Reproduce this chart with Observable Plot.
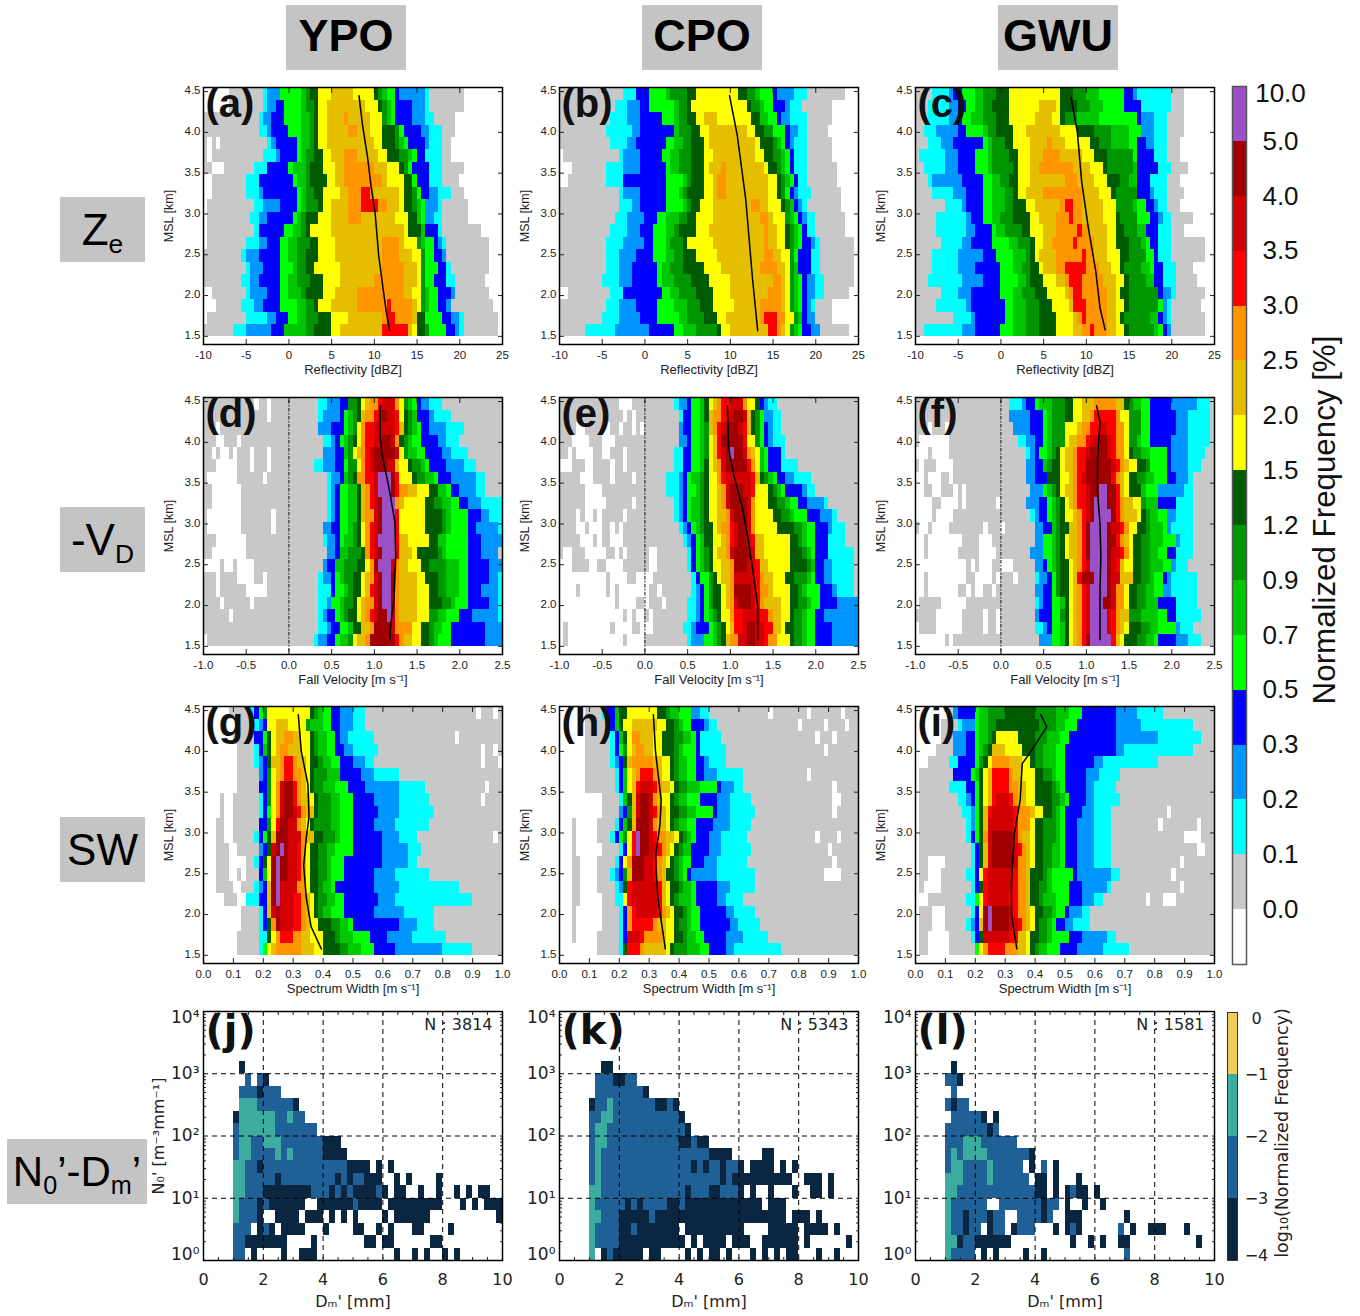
<!DOCTYPE html>
<html><head><meta charset="utf-8">
<script src="https://cdn.jsdelivr.net/npm/d3@7"></script>
<script src="https://cdn.jsdelivr.net/npm/@observablehq/plot@0.6"></script>
<style>
html,body{margin:0;padding:0;background:#fff}
#root{position:relative;width:1360px;height:1316px;overflow:hidden;font-family:"Liberation Sans",sans-serif}
#root>*{position:absolute}
#root svg{overflow:visible;background:transparent}
.box{background:#c4c4c4;display:flex;align-items:center;justify-content:center;color:#000;white-space:nowrap}
.box sub{font-size:.6em;vertical-align:-.3em;line-height:0}
</style></head><body><div id="root"></div>
<script>
// class colours, from frequency 0 up to the top of the colour bar
const classColors=["#ffffff","#c8c8c8","#00ffff","#0096ff","#0000ff","#00ff00","#00c800","#009600","#005a00","#ffff00","#e6be00","#ff9600","#ff0000","#d20000","#a00000","#9b50c8"];
const barLabels=["0.0","0.1","0.2","0.3","0.5","0.7","0.9","1.2","1.5","2.0","2.5","3.0","3.5","4.0","5.0","10.0"];
const dsdColors={d:"#0a2640",b:"#1f6096",t:"#3cac9f",g:"#f0cd5a"};
const dsdBarLabels=["0","\u22121","\u22122","\u22123","\u22124"];
// each row, top (4.5 km) to bottom (1.5 km): bin where each class starts | bin where each class ends
const rowsA=["6 14 15 18 18 23 24 25 27 30|35 40 41 42 43 45 46 52 53 61","6 14 15 17 19 23 24 26 27 29|38 41 42 43 44 45 49 52 53 61","0 13 14 16 19 23 25 26 27 29 33|34 39 42 42 43 44 45 49 52 54 59","0 13 15 16 20 23 25 26 27 29 34|36 39 42 45 46 46 47 51 53 56 59","0 15 16 17 22 23 25 26 27 29|40 42 45 46 47 48 52 53 56 58","0 14 17 18 22 23 24 26 28 30 33|36 41 43 46 48 49 50 52 52 56 58","0 12 15 15 20 21 24 25 28 31 33|40 43 46 47 48 48 49 53 53 56 61","2 10 13 13 21 22 24 25 29 31 33|42 43 47 49 49 49 50 53 53 56 60","2 10 13 14 22 23 24 26 28 32 34 37|39 40 46 47 49 50 50 51 53 55 58 61","1 12 14 18 22 23 24 27 28 30 34 37|41 43 46 47 49 50 51 52 52 55 56 62","1 11 13 15 21 22 23 24 27 30 34|37 45 48 50 50 51 52 52 54 56 62","1 12 13 13 19 21 23 24 25 30|47 48 51 51 52 52 55 55 56 65","1 10 13 15 18 20 22 25 27 31 42|46 47 50 50 51 52 54 55 56 57 67","0 9 10 13 18 20 22 24 27 31 42|46 49 51 51 52 52 54 56 57 57 67","0 10 11 14 18 21 22 24 26 32 42|47 50 51 51 52 52 55 57 57 58 67","0 9 11 13 18 20 22 25 28 32 40|47 50 51 51 52 52 54 57 57 59 66","2 10 11 15 18 20 23 24 28 31 36|47 49 51 51 52 53 55 58 59 59 67","3 9 12 14 18 22 24 26 27 30 36 43|44 49 50 51 51 52 53 55 57 58 58 68","1 10 15 17 20 22 24 27 30 34 42 43|45 49 50 50 52 52 52 56 58 60 61 69","0 7 10 16 19 19 24 26 30 32 42 42|48 48 49 50 52 53 53 57 59 60 61 69"];
const rowsB=["0 15 18 18 21 25 26 30 32|42 44 46 47 50 51 55 58 67","0 13 16 19 21 27 28 30 31|44 45 47 48 50 53 54 57 64","0 12 16 19 24 27 28 30 32 34|37 45 47 47 49 51 52 54 58 64","0 11 17 19 27 27 28 31 33 35|44 46 48 50 50 53 54 56 58 63","0 12 16 18 25 27 29 31 34 35|46 47 50 51 52 53 54 55 58 64","1 14 15 19 24 26 28 31 34 36|46 48 50 52 53 54 55 55 58 64","3 11 15 19 25 26 28 31 34 35 38|39 48 49 51 52 53 54 55 55 58 65","2 11 15 15 25 29 30 31 34 36 37|39 49 51 52 53 54 55 56 56 58 65","0 14 15 19 25 28 29 30 34 36 37|39 49 51 52 53 53 54 55 56 59 66","0 14 17 19 25 29 30 31 33 36 45|47 49 52 53 54 55 55 56 57 58 66","0 13 16 20 23 25 28 30 32 36 47|49 50 53 53 54 55 56 57 58 60 67","0 12 16 19 22 25 27 28 32 35 48|49 51 53 54 55 56 57 58 58 60 67","0 11 15 20 22 25 26 29 30 36 48|49 51 53 54 55 56 57 59 60 61 69","0 11 14 18 22 25 27 29 32 37 48|50 52 54 54 55 55 56 59 59 61 69","0 11 14 17 23 24 26 29 34 38 47|51 53 54 54 55 56 56 59 59 61 69","0 10 14 17 23 24 27 31 35 40 50|52 53 54 54 55 56 57 58 60 62 69","2 12 15 15 24 26 28 32 36 40 49|52 53 54 54 55 56 57 58 60 62 68","0 11 14 18 23 27 30 33 36 41 47|52 53 54 54 55 56 57 58 59 60 64","0 10 14 19 23 28 30 34 37 39 47 48|51 53 53 55 55 56 57 57 58 60 60 64","0 6 13 21 27 29 32 37 38 40 49 49|51 52 53 54 54 55 56 57 59 61 61 68"];
const rowsC=["0 4 8 9 11 14 16 19 22|34 37 40 43 49 51 52 60 63","0 3 8 10 12 14 16 18 22 29|33 34 38 41 44 49 53 53 60 63","0 3 8 10 11 13 16 19 22 28|32 34 35 38 43 52 53 56 59 63","0 2 5 10 12 16 17 19 23 26|34 38 42 46 50 53 53 56 59 63","0 3 6 9 16 17 18 21 23 27 31|32 35 41 43 46 50 52 54 56 59 62","0 1 7 10 14 17 18 22 24 27 30|34 39 42 45 51 51 52 56 56 59 62","0 2 7 10 14 17 18 23 24 27 29|37 41 44 45 51 52 52 57 57 60 64","0 3 4 11 16 18 20 22 24 27 35|38 42 45 48 50 52 52 55 55 59 62","0 4 9 12 16 18 21 23 24 26 30|39 43 46 47 52 52 52 55 56 59 63","0 7 11 12 16 18 21 23 26 28 34 35|37 39 44 47 47 51 52 54 56 57 59 62","0 5 12 13 16 18 20 23 27 29 33 36|37 39 44 47 48 52 52 55 57 58 60 65","0 5 12 14 18 19 21 25 27 30 33 38|39 41 45 47 49 52 54 54 57 57 60 63","0 6 11 13 18 22 24 27 28 30 32 37|38 42 45 47 50 53 54 55 57 57 60 68","0 4 10 16 19 23 26 27 28 29 33 39|40 42 45 48 50 54 54 56 57 57 60 68","0 4 10 14 20 23 25 27 29 30 33 35|40 43 46 48 49 53 55 56 58 58 61 65","0 3 11 16 20 24 26 27 30 33 35 36|39 44 47 49 50 54 56 56 58 58 61 66","0 6 10 13 20 23 25 28 31 35 36 37|39 45 47 48 50 57 57 57 58 60 61 68","0 5 12 13 21 23 26 29 32 36 37 37|40 45 47 49 50 57 57 58 58 59 60 67","0 9 13 14 21 23 26 29 33 37 38 39|40 45 47 48 49 55 57 57 58 59 60 68","0 2 11 14 20 23 26 29 33 37 39 41|42 45 47 49 50 56 57 58 59 60 60 68"];
const rowsD=["0 27 29 32 34 34 34 36 37 38 39 41 42|45 45 46 46 47 47 48 49 50 51 53 56 70","0 27 28 32 33 34 35 36 37 37 38 40 41 42|43 45 46 46 46 47 48 49 50 50 53 54 58 70","0 27 27 30 33 34 35 36 36 37 37 38 40|45 46 46 47 47 48 49 50 51 53 57 61 70","0 28 30 31 32 33 34 35 36 37 37 38 40 42|44 45 45 46 46 46 47 48 49 51 55 57 60 70","0 28 28 31 33 33 34 35 35 36 37 38 39 40|45 46 46 46 46 47 47 48 50 52 56 58 62 70","0 26 28 31 33 34 34 36 36 37 37 38 39 40|43 45 45 45 46 48 49 51 52 53 57 61 64 70","0 29 30 32 33 33 34 35 36 36 36 38 40 41 41|44 45 45 46 46 46 49 50 52 54 55 58 64 66 70","0 29 30 31 32 34 36 36 37 37 38 39 40 41 41|44 45 45 46 48 50 53 55 55 57 58 60 64 66 70","0 29 30 31 32 34 36 36 37 37 38 39 40 41 42|45 45 45 45 46 47 52 54 56 58 60 62 65 70 70","0 29 30 31 32 34 36 36 37 37 38 40 40 41 42|45 45 45 46 46 46 52 56 57 58 62 65 67 70 70","0 28 28 30 32 34 35 36 37 38 38 39 40 41 42|45 45 45 46 46 46 52 56 57 58 62 64 69 70 70","0 28 29 31 32 33 35 36 37 38 38 39 40 41 41|45 45 45 46 46 48 53 55 55 57 62 65 70 70 70","0 29 29 31 32 32 34 37 38 38 38 39 40 41 42|45 45 45 46 46 49 50 55 56 57 62 65 69 69 70","0 28 28 29 31 31 33 36 38 39 39 40 40 40 41|44 44 45 45 46 48 51 53 57 60 62 67 70 70 70","0 27 28 30 31 32 33 35 37 38 39 40 40 41 42|44 45 45 45 46 50 52 55 57 60 62 67 69 70 70","0 27 30 30 31 33 34 35 37 38 39 39 40 41 42|44 45 45 45 46 50 53 55 57 60 62 65 69 70 70","0 27 29 30 30 32 33 35 36 37 38 40 40 41 42|44 45 45 45 46 50 53 56 58 59 62 67 69 70 70","0 27 28 29 31 32 33 34 36 37 38 39 40 41 43|44 44 45 45 46 50 53 53 55 57 60 63 69 70 70","0 27 29 30 32 34 35 35 37 37 39 40 40 40|44 45 45 49 49 51 53 54 56 58 66 70 70 70","1 26 27 29 31 32 34 35 35 36 38 39 39 39|45 45 46 47 49 51 53 54 55 58 66 70 70 70"];
const rowsE=["0 27 28 30 31 33 34 34 35 36 37 38 40|43 43 44 44 46 47 47 47 47 48 49 51 70","0 28 29 29 31 33 34 34 35 35 36 38 39 41|43 44 44 44 45 45 46 47 47 48 48 50 52 70","0 28 28 29 31 33 34 35 35 35 36 37 38 39|42 43 44 44 45 45 46 47 47 48 49 50 52 70","0 28 28 30 31 33 34 35 35 36 37 37 38 38|43 43 44 44 44 46 46 47 47 48 49 50 53 70","0 27 29 29 31 33 34 35 35 36 37 37 38 39 40|41 43 44 44 45 46 47 47 47 48 49 52 52 53 70","0 27 29 29 31 33 34 34 35 36 37 38 38 39|44 44 45 46 46 47 47 47 48 49 52 52 56 70","0 25 28 29 30 31 33 34 35 37 37 38 39|45 46 46 47 47 48 49 50 51 53 55 59 70","0 25 28 29 30 32 33 34 35 37 38 39 39 40|43 45 46 46 46 49 50 51 52 53 57 58 60 70","0 27 28 29 30 31 33 34 35 37 38 39 39 40|44 45 45 46 46 49 51 53 54 56 58 62 63 70","0 27 28 29 30 31 33 34 35 37 39 40 40 41|44 45 45 46 46 50 52 54 55 58 61 64 65 70","0 28 29 30 31 32 33 34 36 37 38 40 41 42|44 45 45 46 46 51 55 57 58 60 63 64 67 70","0 29 30 31 32 33 34 34 36 38 39 40 41 42|44 45 46 46 48 54 56 57 58 60 63 63 67 70","0 30 31 31 32 33 34 35 36 37 39 40 40 41|45 46 46 46 48 54 57 58 59 60 63 63 69 70","0 30 31 31 32 33 34 35 36 38 40 41 41 41|44 46 47 47 49 54 58 59 60 60 62 64 69 70","0 31 32 32 33 35 35 36 37 38 40 41 41|46 47 48 50 53 55 58 59 60 62 64 69 70","0 31 32 33 34 35 35 36 38 39 40 41 41 41|45 46 47 49 50 54 56 57 58 61 64 65 69 70","0 30 32 33 34 35 35 36 38 39 40 41 41 42|45 46 47 48 52 54 56 58 59 61 65 70 70 70","0 30 32 33 34 35 36 37 38 40 40 41 43|47 49 50 52 54 55 57 58 60 62 70 70 70","0 29 31 32 35 36 37 38 39 40 41 41 43 44|46 48 50 50 52 53 55 57 58 60 64 70 70 70","0 30 31 34 34 36 37 38 39 39 40 42 42 44|46 48 49 51 51 54 55 57 58 60 64 70 70 70"];
const rowsF=["0 22 25 26 28 29 32 35 37 39 42|47 49 49 50 51 53 55 60 66 69 70","0 22 22 27 30 31 32 35 37 39 41 42|47 48 48 50 50 53 53 55 61 64 69 70","0 23 23 27 30 31 32 35 35 38 39 41 43|45 47 49 49 50 50 53 53 55 61 64 69 70","0 24 26 28 30 31 32 35 35 36 38 40 41 43|45 46 47 49 49 50 50 52 53 55 60 64 69 70","0 26 27 28 29 31 32 33 34 35 37 38 40 41|45 46 47 49 49 50 51 53 55 59 60 64 68 70","0 26 26 28 30 30 31 32 34 35 37 38 40 40|46 47 48 49 50 52 54 55 55 59 60 64 67 70","0 26 26 28 31 31 31 31 34 36 37 38 39 40|46 46 47 48 49 50 52 54 56 59 61 64 65 70","0 27 27 30 30 31 32 33 34 35 37 38 40 41 43|45 47 47 48 48 49 50 53 53 54 57 57 63 65 70","0 26 26 29 31 32 33 34 35 36 37 38 40 41 42|45 47 47 48 49 51 53 53 54 57 57 61 61 65 70","0 27 28 29 31 32 33 34 35 37 38 39 40 41 42|46 47 47 48 49 52 53 54 55 57 59 59 61 65 70","0 28 28 30 32 32 33 34 36 36 38 39 40 40 41|45 46 48 49 50 50 52 54 55 58 59 59 60 65 70","0 28 28 30 30 32 33 34 35 36 38 39 40 40 41|45 47 47 48 49 50 51 53 55 58 61 61 62 65 70","0 27 27 30 30 32 33 34 35 36 38 39 40 40 41|45 46 48 49 50 50 51 53 55 57 59 61 61 65 70","0 28 28 30 31 32 33 34 36 37 38 39 40 41 41|45 46 47 48 48 49 51 53 55 58 60 60 61 64 70","0 28 29 31 32 33 33 34 36 37 38 38 39 39 42|45 46 48 48 48 51 51 53 55 56 58 59 60 66 70","0 28 28 30 32 33 33 34 36 37 38 39 40 41 41|45 46 47 47 49 49 50 52 54 56 58 58 60 66 70","0 28 29 30 32 34 35 35 36 37 38 39 40 41 41|44 46 47 47 49 49 50 52 54 57 57 61 61 66 70","0 28 28 29 32 34 34 35 36 37 38 39 40 41 41|45 45 46 47 48 50 50 50 53 57 59 61 61 67 70","0 28 30 31 32 34 35 35 36 37 38 39 40 41 41|45 45 46 47 48 49 50 53 55 57 61 61 62 65 70","0 29 29 32 32 34 35 35 36 37 38 39 40 40 41|46 46 46 47 47 48 49 52 54 56 57 61 64 67 70"];
const rowsG=["6 11 12 12 13 14 14 15 15|25 26 27 28 30 32 35 38 70","8 12 13 14 15 15 15 15 15 17|20 24 24 25 28 30 32 35 38 70","7 12 12 12 14 15 15 15 16 17 19|21 23 25 26 27 29 31 32 34 40 70","8 12 13 13 14 14 15 15 16 17 18|20 23 25 26 27 29 31 33 35 41 70","8 12 13 14 15 15 15 15 16 16 18 19|21 22 24 25 27 28 30 32 35 38 40 70","7 13 13 14 15 15 15 16 16 17 18 19|21 23 24 25 26 29 32 32 37 40 46 70","5 13 13 13 15 15 15 16 16 17 17 18 18 19|21 21 22 23 24 25 26 28 31 34 38 46 52 70","4 13 14 14 15 15 15 16 16 17 17 18 18 19|21 21 22 23 25 26 27 30 32 35 40 46 53 70","4 13 14 14 15 16 16 16 16 17 17 18 18 19|21 22 23 24 26 26 27 30 32 35 41 46 54 70","3 13 13 13 15 15 15 16 16 17 17 17 18 18|20 22 22 23 24 25 26 30 32 35 40 45 53 70","3 12 13 13 14 15 15 15 16 16 17 17 17 17|20 23 23 24 26 26 28 31 32 35 42 46 50 70","3 13 13 14 15 15 15 15 16 16 16 16 16 17 18|19 20 22 23 24 24 25 27 29 31 35 42 48 51 70","3 12 13 13 14 14 14 14 15 16 16 16 16 16 17|18 20 22 23 24 24 25 27 29 30 33 42 48 50 70","3 13 13 13 14 14 15 15 15 16 16 16 16 16 17|18 20 22 23 24 24 25 27 29 30 33 40 45 53 70","3 12 13 14 15 15 15 15 15 15 16 16 16 16 17|18 18 22 22 24 24 25 27 28 30 31 40 46 60 70","5 10 13 13 15 15 15 15 15 15 16 16 16 16 17|18 18 21 23 24 25 26 27 29 31 33 41 45 63 70","9 13 14 14 15 15 15 15 15 15 16 16 16 17|18 21 23 24 25 26 27 28 30 33 40 47 54 70","9 13 14 14 15 15 15 15 16 16 16 17 17 17|18 21 23 24 25 27 30 32 34 35 46 50 54 70","8 13 15 15 15 15 15 15 16 17 17 18|21 23 25 28 31 32 35 39 43 49 57 70","8 13 14 14 14 15 15 15 15 16 17|23 26 28 32 34 37 40 45 56 63 70"];
const rowsH=["6 10 11 11 13 13 14 14 16|23 25 26 28 31 31 33 35 70","6 12 12 12 13 13 14 14 15 17|23 25 27 28 29 31 34 35 37 70","6 12 13 13 14 14 15 15 16 17 17|19 22 24 27 29 31 32 33 33 38 70","6 12 13 13 14 15 15 16 16 17 18|20 22 24 27 28 29 32 33 33 39 70","6 12 13 14 15 15 15 15 16 16 17|22 24 26 27 28 30 32 34 35 39 70","6 13 14 14 15 15 16 16 16 17 18 19|22 23 24 26 27 28 30 32 34 37 43 70","4 13 14 14 15 15 16 16 16 17 18 18 19|22 23 24 26 27 28 30 33 37 38 41 43 70","4 14 15 15 15 15 16 16 17 17 18 18 18 19|21 22 22 23 24 26 27 28 30 33 37 40 45 70","4 14 14 15 16 16 16 17 17 17 18 18 18 19|21 22 23 24 25 26 28 30 32 36 37 40 46 70","3 13 14 14 15 15 16 16 17 17 18 18 18 18|21 22 22 23 25 26 27 28 30 32 36 40 45 70","3 12 13 13 14 15 15 16 16 17 17 17 18 18 18|19 21 22 23 25 27 28 29 30 31 32 35 38 44 70","3 14 15 15 16 16 16 16 16 17 17 17 18 18 18|19 21 23 24 25 26 27 28 29 31 31 35 38 45 70","3 13 14 14 15 15 15 15 15 16 16 17 17 17|20 22 23 24 25 26 27 28 29 31 34 37 44 70","3 12 13 14 15 15 15 16 16 16 17 17 17 17|20 22 23 24 25 25 27 28 29 30 31 37 46 70","3 13 14 15 15 15 15 15 16 16 16 16 17|23 24 24 25 26 28 29 31 32 37 40 46 70","3 13 15 15 15 15 15 15 15 16 16 16 17|23 24 24 25 26 27 28 31 32 37 39 43 70","3 14 15 15 16 16 16 16 16 16 16 17 18|23 24 25 26 27 29 30 31 33 39 41 46 70","3 14 15 15 16 16 16 16 16 16 16 17|22 23 25 27 28 30 31 33 40 42 47 70","3 14 15 15 16 16 16 16 16 16 16 16 16|19 20 24 25 27 29 30 32 34 39 43 49 70","9 14 15 15 15 15 15 15 16 16 16 16|19 20 25 26 27 30 33 35 39 41 52 70"];
const rowsI=["8 9 9 10 14 15 17 21|28 33 36 39 47 52 58 70","6 10 11 14 14 15 17 19|29 33 35 38 47 53 65 70","6 9 9 12 14 15 17 18 19|24 28 31 34 36 47 57 67 70","5 9 9 12 14 15 16 17 18 18|21 25 28 30 33 35 47 49 65 70","3 8 10 10 14 15 15 16 17 18 18|22 25 27 28 30 33 35 42 44 57 70","1 9 9 9 13 14 15 15 16 17 18 18|22 23 25 28 30 32 33 35 40 43 48 70","1 8 12 12 14 15 15 15 16 17 18 18|22 24 26 28 32 33 34 35 40 42 47 70","1 10 12 13 14 15 15 15 16 17 18 18 19|22 23 24 26 28 32 34 35 36 40 42 48 70","1 11 13 14 14 15 15 15 16 16 17 17 18|23 24 27 28 30 32 33 34 35 39 42 46 70","1 12 13 14 14 15 15 15 16 16 17 17 17|23 24 27 27 28 30 33 34 35 38 42 46 70","1 12 13 13 14 15 15 15 16 16 16 17 17 18|23 23 24 25 27 28 30 33 34 35 38 42 46 70","1 13 14 14 15 15 15 15 16 16 17 17 17 18|23 24 25 26 27 28 30 32 34 35 38 42 46 70","1 13 14 14 15 15 15 15 16 16 17 17 17 18|23 24 24 26 27 28 30 32 34 35 38 42 46 70","1 12 14 14 15 15 15 15 15 16 16 16 17|23 24 26 27 27 30 31 32 37 38 46 48 70","1 13 14 14 15 15 15 15 16 16 16 16 17|23 24 26 27 27 29 31 32 36 39 45 46 70","1 12 14 14 14 15 15 15 15 16 16 16 17|22 24 26 27 27 29 30 33 36 39 42 44 70","1 13 14 14 15 15 15 15 15 16 16 16 16 16 17|18 22 23 24 26 27 28 30 32 33 35 36 39 41 70","1 12 13 14 15 15 15 15 15 15 16 16 16 16 17|18 22 24 25 26 27 28 29 31 32 33 35 37 41 70","1 13 14 14 15 15 15 15 16 16 16 16 16|22 24 24 26 27 29 31 32 36 39 45 47 70","1 14 14 14 14 15 15 15 15 16 16 17|21 24 26 27 28 29 31 34 38 44 50 70"];
// white gaps inside the grey, by row from the top, in bins
const holesA=["","","","","1 3","1","2-4","","0-1","","","","","","","","","","",""];
const holesD=["12 15","15","3","3-4 8","2 4-5 7 11 15","3-7 11 15","1-3 4-7 14","2-8","2-8","1-8 16","1-8 16","3-9","2-9","0-2 3 5 6 8-11","3 8-11 14","3 10-13 14","4 11","6","",""];
const holesE=["14-16","15 17","4-5 10-11 14 17 19","3-6 10-12","2 4-7 10-11 15","0-2 6-7 12 15","5-7 12 17","6-9","6-10 17","4 6-7 9 15","4-5 7-9 12 14","5-7 9 12-14","1-2 6-10 13 15 21-22","0-2 7-8 11-14 21-22","0-10 12-15 18-21","0-3 5-10 12 14-20 23","0-12 14-17 20 24","0-14 16 18-19 21","0 2-11 13-16 19-21","0 2-14 16-19"];
const holesF=["","","3 7","1-4 5-7","0-2 4-7","1 5-7 8","0-1 3-5 8","0-1 4-5 9 11","0-2 3 6-7 8-9 11 19","0-3 5-8","1-2 4-7 16 20","0-1 3-10 15-17","0-1 3-5 6-9 15-18","0-5 6-8 9-11 13 15-17 20-22","0-1 3-10 11 14-17 19 23","0-1 3-9 12 14-15 18","0 6-10 11","5-10 16 19","0 5-9 10 16 19","0-6 8"];
const holesG=["64 68","","59","65 68","65 69","6-7","5-7 66","5-6 65","5-6","5-6","5-6 68","6-7","6-8 9","6-7 9","7-8","8-9","","","",""];
const holesH=["49 58 66","56 62 67","60 64","62","","58","3-5 64","4-9 64-65","4-9 64","4-8","4-8 60 65","4-9 63","5-8 64","5-8 62-65","5-8","5-9","4-9","4-9","4-8",""];
const holesI=["","","","","","","","","59","57 66","63-66","66-67","3-6 62","3-5 60","2-5 62","1-2 54 58-60","4-6","4-6","3-7","3-7"];
// mean profiles [value, km]
const meanA=[[8.2,4.45],[8.6,4.1],[9.2,3.7],[9.6,3.35],[10.1,3],[10.5,2.5],[11,2.1],[11.4,1.8],[11.8,1.57]];
const meanB=[[9.9,4.45],[10.8,3.97],[11.8,3.18],[12.6,2.2],[13.2,1.57]];
const meanC=[[8.2,4.43],[8.95,4],[9.45,3.4],[10.2,2.85],[11.1,2.3],[11.6,1.85],[12.2,1.58]];
const meanD=[[1.07,4.45],[1.07,4.05],[1.09,3.85],[1.17,3.45],[1.24,3.03],[1.25,2.6],[1.23,2.08],[1.19,1.75],[1.18,1.58]];
const meanE=[[.965,4.45],[.98,3.93],[1.04,3.6],[1.14,3.2],[1.2,2.87],[1.26,2.45],[1.32,2],[1.32,1.58]];
const meanF=[[1.12,4.45],[1.16,4.25],[1.13,3.8],[1.13,3.4],[1.16,3],[1.17,2.6],[1.16,2.2],[1.16,1.58]];
const meanG=[[.317,4.45],[.327,4],[.349,3.6],[.353,3.2],[.344,2.95],[.335,2.6],[.344,2.2],[.36,1.85],[.394,1.58]];
const meanH=[[.314,4.45],[.321,4],[.34,3.4],[.336,3.1],[.321,2.7],[.329,2.2],[.354,1.58]];
const meanI=[[.419,4.45],[.439,4.3],[.386,4],[.357,3.85],[.35,3.4],[.331,3],[.321,2.4],[.321,2],[.339,1.58]];
// N0'-Dm' rows from the top (row 15) to the bottom (row 0): class letter + bins
const dsdJ=["d6","b7 b9 d10","b6-8 d9 b10-12","t6-8 b9-14 d15","d5 t6-11 b12-13 t14 b15-16","b5 t6-11 b12-18","b5 t6-7 b8-9 t10-12 b13-19 d20-22","b5 t6-7 b8-11 t12 b13 t14 b15-19 d20-23","t5-6 b7-8 d9 b10-23 d24-27 d29 d31","t5-6 b7-11 d12 b13-21 d22 b23 d24 b25-26 d27-29 d32 d34 d39","t5-6 b7-9 d10-17 b18-20 d21 b22 d23 b24 d25-28 b29 d30 d32-33 d36 d39 d42 d44 d46-47","t5 b6-8 d9 b10 d11-16 d19-24 b25 d26-29 d31-37 d38-39 d43 d45 d47-49","t5 b6-8 d9 d12-15 d17-19 d21 d23 d25 d30 d32-37 d49","b5-7 d9 b10 d11 d13-16 d20 d25-26 d29 d31 d35-36 d41","b5-6 d7-13 d18 d27-28 d30-31 d38-39","b5-6 d8 d13 d16-18 d32 d35 d37 d40 d42"];
const dsdK=["d7-8","b6-8 d9-10 b11-12","b6-13 d14","d5 b6-7 t8 b9-15 d16-17 b18 d19","b5-6 t7-8 b9-19 d20","b5 t6-7 b8-20 d21","b5 t6-7 b8-19 d20-21 b22 d23-24","b5 t6 b7-24 d25-28 d34-35","b5 t6 b7-21 d22 b23 d24 b25-26 d27 b28-29 d30 d32-35 d37 d39","b5 t6 b7-26 d27 b28 d29-35 d36-38 d41-43 d45","t5-6 b7-20 d21 b22-24 d25-26 b27-29 d30 d32 d35 d39 d42-43 d45","t5 b6-9 b10 d11 b12 d13 b14-17 d18-19 b20 d21-33 d35-37","t5-6 b7-9 d10-14 b15 d16-37 d39-41 d43","t5 b6-9 d10-11 b12 d13-19 d21-30 d35-39 d41-44 d46","t5 b6-9 d10-20 d22 d24-27 d29 d30-31 d34-35 d36-39 d41 d48","t5 d7 b8 d9-13 d15-16 d21 d23 d25-26 d28 d32 d34 d36 d38-39 d43 d46"];
const dsdL=["d6","b5-6 d7","b6","b5 d6 b7-8","b6-10 d11 d13","b5-11 d12 b13","b5-7 t8-10 b11-16","b5 t6 b7 t8-11 b12-18 d19","b5 t6-7 b8-9 b10 b11 t12 b13-17 d19 b21 d23","t5-7 b8-11 t12 b13-18 d20-21 d23 d27","t5-6 b7-19 d20-21 d23 d25 b26 d27-28 d30","t5 b6-11 b14-20 d21 b22-23 d25 d28 d31","t5 b6-7 d8 b9-11 d12 b13-14 b17-20 d21 b22 d25-27 d35","t5 b6-7 d8 b9-10 d12 b13-14 d16 b17-19 d23 d25 b26 d27 b34 d36 d39-41 d45","t5-6 d7 b8-9 d10-15 d26 d29 d31 d34-35 d47","t5 b6-9 d11 d13 d18 d21 b35"];

const root=document.getElementById("root");
const frameW=299, frameH=257;
const colLeft=[203,559,915], rowTop=[87,397,706];
const yRowBase=1.492, yRowStep=0.1528;
const zxTicks=[-10,-5,0,5,10,15,20,25], vxTicks=[-1,-.5,0,.5,1,1.5,2,2.5], sxTicks=[0,.1,.2,.3,.4,.5,.6,.7,.8,.9,1];
const yTicks=[1.5,2,2.5,3,3.5,4,4.5];

function place(el,left,top){el.style.position="absolute";el.style.left=left+"px";el.style.top=top+"px";root.appendChild(el);return el;}
function parseRanges(s){return s.trim()?s.trim().split(/\s+/).map(t=>{const m=t.match(/^([a-z]?)(\d+)(?:-(\d+))?$/);return {k:m[1],a:+m[2],b:m[3]?+m[3]+1:+m[2]+1};}):[];}
function cellsFrom(rows,holes,xmin,dx){
  const out=[];
  rows.forEach((row,r)=>{
    const [ls,rs]=row.split("|").map(s=>s.trim().split(/\s+/).map(Number));
    const y1=yRowBase+(19-r)*yRowStep, y2=y1+yRowStep;
    const push=(a,b,c)=>{if(b>a)out.push({x1:xmin+a*dx,x2:xmin+b*dx,y1,y2,c});};
    ls.forEach((e,i)=>{const next=i<ls.length-1?ls[i+1]:rs[0];push(e,next,i+1);});
    rs.forEach((e,i)=>{if(i<rs.length-1)push(e,rs[i+1],rs.length-1-i);});
    if(holes&&holes[r])parseRanges(holes[r]).forEach(h=>push(h.a,h.b,0));
  });
  return out;
}
function profilePanel(col,rw,letter,rows,holes,mean,xmin,xmax,xTicks,xFmt,xLabel,zero){
  const dx=(xmax-xmin)/70;
  const p=Plot.plot({
    width:frameW+62,height:frameH+50,marginLeft:50,marginRight:12,marginTop:8,marginBottom:42,
    style:{background:"transparent",fontFamily:"Liberation Sans",fontSize:"11.5px",color:"#222"},
    x:{domain:[xmin,xmax]},y:{domain:[1.4,4.55]},color:{type:"identity"},
    marks:[
      Plot.rect(cellsFrom(rows,holes,xmin,dx),{x1:"x1",x2:"x2",y1:"y1",y2:"y2",fill:d=>classColors[d.c],shapeRendering:"crispEdges"}),
      zero?Plot.ruleX([0],{stroke:"#111",strokeWidth:1,strokeDasharray:"1.5,1.5,3.5,1.5"}):null,
      Plot.line(mean,{stroke:"#000",strokeWidth:1.5}),
      Plot.axisX({anchor:"bottom",ticks:xTicks,tickSize:-5,fill:"none",label:null}),
      Plot.axisX({anchor:"top",ticks:xTicks,tickSize:-5,fill:"none",label:null}),
      Plot.axisY({anchor:"left",ticks:yTicks,tickSize:-5,fill:"none",label:null}),
      Plot.axisY({anchor:"right",ticks:yTicks,tickSize:-5,fill:"none",label:null}),
      Plot.axisX({anchor:"bottom",ticks:xTicks,tickSize:0,tickPadding:6,tickFormat:xFmt,label:null}),
      Plot.axisY({anchor:"left",ticks:yTicks,tickSize:0,tickPadding:3,dy:-1,tickFormat:d=>d.toFixed(1),label:null}),
      Plot.text([xLabel],{frameAnchor:"bottom",lineAnchor:"middle",dy:25,fontSize:13,fill:"#222",stroke:null}),
      Plot.text(["MSL [km]"],{frameAnchor:"left",textAnchor:"middle",dx:-35,rotate:-90,fontSize:12.5,fill:"#222",stroke:null}),
      Plot.frame({stroke:"#000",strokeWidth:1.5}),
      Plot.text([letter],{frameAnchor:"top-left",dx:2,dy:1,lineAnchor:"top",fontSize:40,fontWeight:"bold",fill:"#111",stroke:null})
    ]});
  place(p,colLeft[col]-50,rowTop[rw]-8);
}
const f1=d=>d.toFixed(1), f0=d=>String(d);
profilePanel(0,0,"(a)",rowsA,holesA,meanA,-10,25,zxTicks,f0,"Reflectivity [dBZ]",false);
profilePanel(1,0,"(b)",rowsB,null,meanB,-10,25,zxTicks,f0,"Reflectivity [dBZ]",false);
profilePanel(2,0,"(c)",rowsC,null,meanC,-10,25,zxTicks,f0,"Reflectivity [dBZ]",false);
profilePanel(0,1,"(d)",rowsD,holesD,meanD,-1,2.5,vxTicks,f1,"Fall Velocity [m s\u207B\u00B9]",true);
profilePanel(1,1,"(e)",rowsE,holesE,meanE,-1,2.5,vxTicks,f1,"Fall Velocity [m s\u207B\u00B9]",true);
profilePanel(2,1,"(f)",rowsF,holesF,meanF,-1,2.5,vxTicks,f1,"Fall Velocity [m s\u207B\u00B9]",true);
profilePanel(0,2,"(g)",rowsG,holesG,meanG,0,1,sxTicks,f1,"Spectrum Width [m s\u207B\u00B9]",false);
profilePanel(1,2,"(h)",rowsH,holesH,meanH,0,1,sxTicks,f1,"Spectrum Width [m s\u207B\u00B9]",false);
profilePanel(2,2,"(i)",rowsI,holesI,meanI,0,1,sxTicks,f1,"Spectrum Width [m s\u207B\u00B9]",false);

// N0'-Dm' panels
const sup={0:"\u2070",1:"\u00B9",2:"\u00B2",3:"\u00B3",4:"\u2074"};
const dsdMajorX=[0,2,4,6,8,10];
const dsdMinorX=d3.range(0,10.01,.5);
const dsdMinorY=[0,1,2,3].flatMap(e=>[2,3,4,5,6,7,8,9].map(m=>m*10**e));
const dsdTickFmt=d=>"10"+sup[Math.round(Math.log10(d))];
function dsdCells(rows){
  const out=[];
  rows.forEach((row,i)=>{const k=rows.length-1-i;
    parseRanges(row).forEach(t=>out.push({x1:t.a*.2,x2:t.b*.2,y1:10**(.2*k),y2:10**(.2*k+.2),c:t.k}));});
  return out;
}
function dsdPanel(col,letter,rows,n){
  const H=249;
  const p=Plot.plot({
    width:frameW+72,height:H+68,marginLeft:60,marginRight:12,marginTop:8,marginBottom:60,
    style:{background:"transparent",fontFamily:"DejaVu Sans",fontSize:"16px",color:"#222"},
    x:{domain:[0,10]},y:{type:"log",domain:[1,1e4]},color:{type:"identity"},
    marks:[
      Plot.rect(dsdCells(rows),{x1:"x1",x2:"x2",y1:"y1",y2:"y2",fill:d=>dsdColors[d.c],shapeRendering:"crispEdges"}),
      Plot.ruleX([2,4,6,8],{stroke:"#000",strokeWidth:1,strokeDasharray:"5,4"}),
      Plot.ruleY([10,100,1000],{stroke:"#000",strokeWidth:1,strokeDasharray:"5,4"}),
      Plot.axisX({anchor:"bottom",ticks:dsdMinorX,tickSize:-3,fill:"none",label:null}),
      Plot.axisX({anchor:"top",ticks:dsdMinorX,tickSize:-3,fill:"none",label:null}),
      Plot.axisY({anchor:"left",ticks:dsdMinorY,tickSize:-3,fill:"none",label:null}),
      Plot.axisY({anchor:"right",ticks:dsdMinorY,tickSize:-3,fill:"none",label:null}),
      Plot.axisX({anchor:"bottom",ticks:dsdMajorX,tickSize:0,tickPadding:13,tickFormat:f0,label:null}),
      Plot.text(["D\u2098' [mm]"],{frameAnchor:"bottom",lineAnchor:"middle",dy:41,fontSize:16,fill:"#222",stroke:null}),
      Plot.axisY({anchor:"left",ticks:[10,100,1000],tickSize:0,tickPadding:4,fontSize:17,tickFormat:dsdTickFmt,label:null}),
      Plot.axisY({anchor:"left",ticks:[10000],tickSize:0,tickPadding:4,dy:6,fontSize:17,tickFormat:dsdTickFmt,label:null}),
      Plot.axisY({anchor:"left",ticks:[1],tickSize:0,tickPadding:4,dy:-6,fontSize:17,tickFormat:dsdTickFmt,label:null}),
      col===0?Plot.text(["N\u2080' [m\u207B\u00B3mm\u207B\u00B9]"],{frameAnchor:"left",textAnchor:"middle",dx:-45,rotate:-90,fontSize:16,fill:"#222",stroke:null}):null,
      Plot.frame({stroke:"#000",strokeWidth:1.5}),
      Plot.text([letter],{frameAnchor:"top-left",dx:2,dy:4,lineAnchor:"top",fontSize:40,fontWeight:"bold",fill:"#111",stroke:null}),
      Plot.text(["N : "+n],{frameAnchor:"top-right",dx:-10,dy:7,lineAnchor:"top",fontSize:16,fill:"#222",stroke:null})
    ]});
  place(p,colLeft[col]-60,1011-8);
}
dsdPanel(0,"(j)",dsdJ,3814);
dsdPanel(1,"(k)",dsdK,5343);
dsdPanel(2,"(l)",dsdL,1581);

// main colour bar
const bar=Plot.plot({
  width:14+90,height:878+8,marginLeft:0,marginRight:90,marginTop:4,marginBottom:4,
  style:{background:"transparent",fontFamily:"Liberation Sans",color:"#111"},
  x:{domain:[0,1],axis:null},y:{domain:[0,16],axis:null},color:{type:"identity"},
  marks:[
    Plot.rect(classColors.map((c,i)=>({i,c})),{x1:0,x2:1,y1:d=>d.i,y2:d=>d.i+1,fill:"c",shapeRendering:"crispEdges"}),
    Plot.frame({stroke:"#555",strokeWidth:1.5}),
    Plot.text(barLabels,{x:1,y:(d,i)=>i===15?15.87:i+1,dx:34,fontSize:26,textAnchor:"middle",fill:"#111",stroke:null})
  ]});
place(bar,1232,86-4);
// small colour bar
const dsdBar=Plot.plot({
  width:10+40,height:248+8,marginLeft:0,marginRight:40,marginTop:4,marginBottom:4,
  style:{background:"transparent",fontFamily:"DejaVu Sans",color:"#222"},
  x:{domain:[0,1],axis:null},y:{domain:[-4,0],axis:null},color:{type:"identity"},
  marks:[
    Plot.rect(["d","b","t","g"].map((k,i)=>({i,k})),{x1:0,x2:1,y1:d=>d.i-4,y2:d=>d.i-3,fill:d=>dsdColors[d.k],shapeRendering:"crispEdges"}),
    Plot.frame({stroke:"#333",strokeWidth:1}),
    Plot.text(dsdBarLabels,{x:1,y:(d,i)=>i===0?-.1:i===4?-3.92:-i,dx:19,fontSize:16,textAnchor:"middle",fill:"#222",stroke:null})
  ]});
place(dsdBar,1227,1012-4);

// labels around the plots
function box(html,l,t,w,h,css){const d=document.createElement("div");d.className="box";d.innerHTML="<span>"+html+"</span>";d.style.width=w+"px";d.style.height=h+"px";d.style.cssText+=css;return place(d,l,t);}
box("YPO",286,5,120,65,"font-weight:bold;font-size:45px;padding-bottom:4px;box-sizing:border-box");
box("CPO",642,5,120,65,"font-weight:bold;font-size:45px;padding-bottom:4px;box-sizing:border-box");
box("GWU",998,5,120,65,"font-weight:bold;font-size:45px;padding-bottom:4px;box-sizing:border-box");
box("Z<sub>e</sub>",60,197,85,65,"font-size:44px");
box("-V<sub>D</sub>",60,507,85,65,"font-size:44px");
box("SW",60,817,85,65,"font-size:44px");
box("N<sub>0</sub>\u2019-D<sub>m</sub>\u2019",7,1139,140,65,"font-size:42px");
function vtext(t,cx,cy,css){const d=document.createElement("div");d.textContent=t;d.style.cssText+="white-space:nowrap;transform:translate(-50%,-50%) rotate(-90deg);"+css;return place(d,cx,cy);}
vtext("Normalized Frequency [%]",1325,520,"font-size:31.3px;color:#111");
vtext("log\u2081\u2080(Normalized Frequency)",1282,1133,"font-family:'DejaVu Sans';font-size:17.5px;color:#222");
</script></body></html>
